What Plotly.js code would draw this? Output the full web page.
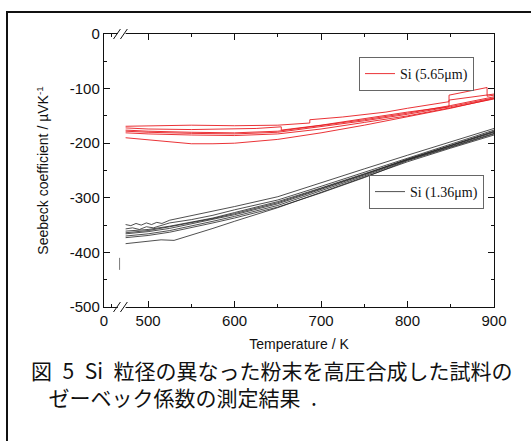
<!DOCTYPE html>
<html>
<head>
<meta charset="utf-8">
<script src="https://cdn.plot.ly/plotly-3.0.1.min.js"></script>
<style>html,body{margin:0;padding:0;background:#fff;}#chart{width:531px;height:441px;}</style>
</head>
<body>
<div id="chart"></div>
<script>
// ---- Data (Temperature K, Seebeck coefficient µV/K) ----
// Si (5.65 µm) – red curves (several measurement runs)
const red1T = [474, 500, 550, 600, 650, 687, 687, 725, 775, 800, 848, 848, 892, 892, 900];
const red1S = [-169, -168, -167, -168, -167, -163, -157, -152, -143, -136, -124, -112, -98, -114, -112];
const red2T = [474, 500, 550, 600, 625, 654, 654, 700, 750, 800, 848, 848, 900];
const red2S = [-172, -174, -175, -174, -173, -170, -176, -167, -155, -143, -133, -121, -110];
const red3T = [474, 500, 550, 600, 650, 700, 750, 800, 850, 900];
const red3S = [-178, -180, -182, -183, -180, -170, -159, -147, -133, -117];
const red4T = [474, 500, 550, 600, 650, 700, 750, 800, 850, 900];
const red4S = [-181, -183, -185, -186, -183, -174, -162, -150, -135, -119];
const red5T = [474, 500, 550, 600, 650, 700, 750, 800, 850, 900];
const red5S = [-176, -178, -180, -181, -178, -168, -157, -145, -131, -115];
const red6T = [474, 500, 525, 550, 575, 600, 650, 700, 750, 800, 850, 900];
const red6S = [-190, -194, -198, -201, -201, -200, -193, -181, -167, -152, -136, -118];

// Si (1.36 µm) – black curves
const blk1T = [474, 480, 486, 492, 498, 504, 510, 516, 525, 550, 575, 600, 650, 700, 750, 800, 850, 900];
const blk1S = [-349, -351, -347, -350, -346, -349, -345, -347, -341, -333, -325, -316, -298, -272, -247, -222, -197, -173];
const blk2T = [474, 482, 490, 498, 506, 514, 525, 550, 575, 600, 650, 700, 750, 800, 850, 900];
const blk2S = [-357, -355, -358, -353, -355, -351, -346, -340, -332, -322, -304, -279, -253, -227, -201, -176];
const blkT  = [474, 500, 525, 550, 575, 600, 650, 700, 750, 800, 850, 900];
const blk3S = [-361, -358, -352, -345, -337, -327, -307, -282, -256, -229, -203, -178];
const blk4S = [-366, -362, -356, -348, -340, -331, -311, -285, -258, -230, -205, -180];
const blk5S = [-370, -366, -360, -352, -343, -334, -314, -287, -260, -231, -206, -182];
const blk6S = [-364, -360, -353, -346, -338, -329, -309, -283, -257, -229, -204, -179];
const blk7S = [-373, -369, -363, -355, -346, -337, -317, -291, -263, -232, -207, -183];
const blk8T = [474, 500, 515, 530, 545, 575, 600, 650, 700, 750, 800, 850, 900];
const blk8S = [-384, -379, -377, -378, -371, -356, -343, -318, -290, -262, -234, -209, -185];
// short stray mark below the black curves
const strayT = [467, 467];
const strayS = [-410, -432];

// axis ticks (broken axis: left end labelled 0)
const xTickVals = [449, 500, 600, 700, 800, 900];
const xTickText = ['0', '500', '600', '700', '800', '900'];
const xMinorVals = [458, 550, 650, 750, 850];
const yTickVals = [-500, -400, -300, -200, -100, 0];
const yTickText = ['-500', '-400', '-300', '-200', '-100', '0'];
const yMinorVals = [-450, -350, -250, -150, -50];

const redName = 'Si (5.65μm)';
const blkName = 'Si (1.36μm)';
const caption1 = '図\u20025\u2002Si\u2002粒径の異なった粉末を高圧合成した試料の';
const caption2 = '\u2002\u2004ゼーベック係数の測定結果\u2002.';

const RED = 'rgb(232,28,32)';
const BLK = 'rgb(35,35,35)';

const redSets = [[red1T, red1S], [red2T, red2S], [red3T, red3S], [red4T, red4S], [red5T, red5S], [red6T, red6S]];
const blkSets = [[blk1T, blk1S], [blk2T, blk2S], [blkT, blk3S], [blkT, blk4S], [blkT, blk5S], [blkT, blk6S], [blkT, blk7S], [blk8T, blk8S]];

const traces = [];
redSets.forEach((s, i) => traces.push({
  x: s[0], y: s[1], type: 'scatter', mode: 'lines', name: redName,
  line: {color: RED, width: 0.9}, showlegend: i === 0, legend: 'legend', hoverinfo: 'skip'
}));
blkSets.forEach((s, i) => traces.push({
  x: s[0], y: s[1], type: 'scatter', mode: 'lines', name: blkName,
  line: {color: BLK, width: 0.8}, showlegend: i === 0, legend: 'legend2', hoverinfo: 'skip'
}));
traces.push({x: strayT, y: strayS, type: 'scatter', mode: 'lines', showlegend: false,
  line: {color: 'rgb(90,90,90)', width: 0.8}, hoverinfo: 'skip'});

// geometry helpers (pixel -> paper) for decorations
const ML = 104, MR = 37, MT = 34, MB = 134, W = 531, H = 441;
const PW = W - ML - MR, PH = H - MT - MB;
const px = v => (v - ML) / PW;
const py = v => (H - MB - v) / PH;
const d = 5 / PH;

const shapes = [
  // outer frame
  {type: 'rect', xref: 'paper', yref: 'paper', x0: px(7), x1: px(545), y0: py(460), y1: py(12),
   line: {color: '#111', width: 2}, fillcolor: 'rgba(0,0,0,0)', layer: 'below'},
];
// axis break marks on bottom (y=0) and top (y=1)
[0, 1].forEach(yy => {
  shapes.push({type: 'line', xref: 'x', yref: 'paper', x0: 465, x1: 474, y0: yy, y1: yy,
               line: {color: 'white', width: 3}, layer: 'above'});
  shapes.push({type: 'line', xref: 'x', yref: 'paper', x0: 460, x1: 468, y0: yy - d, y1: yy + d,
               line: {color: '#111', width: 1}, layer: 'above'});
  shapes.push({type: 'line', xref: 'x', yref: 'paper', x0: 468, x1: 476, y0: yy - d, y1: yy + d,
               line: {color: '#111', width: 1}, layer: 'above'});
});

const FONT = 'Liberation Sans, Arial, sans-serif';
const axisCommon = {
  showgrid: false, zeroline: false, showline: true, linecolor: '#111', linewidth: 1.2,
  mirror: 'ticks', ticks: 'inside', ticklen: 6, tickwidth: 1, tickcolor: '#111',
  tickfont: {family: FONT, size: 15, color: '#111'},
  fixedrange: true
};

const legendCommon = {
  xanchor: 'left', yanchor: 'top', bordercolor: '#666', borderwidth: 1,
  bgcolor: 'white', font: {family: 'Liberation Serif, Times New Roman, serif', size: 14, color: '#111'},
  itemwidth: 30, tracegroupgap: 0
};

const layout = {
  width: W, height: H,
  margin: {l: ML, r: MR, t: MT, b: MB, pad: 0},
  paper_bgcolor: 'white', plot_bgcolor: 'white',
  font: {family: FONT, color: '#111'},
  xaxis: Object.assign({}, axisCommon, {
    range: [449, 900], tickmode: 'array', tickvals: xTickVals, ticktext: xTickText,
    minor: {tickmode: 'array', tickvals: xMinorVals, ticks: 'inside', ticklen: 3, tickcolor: '#111', showgrid: false},
    title: {text: 'Temperature / K', font: {size: 14, family: FONT, color: '#111'}, standoff: 11}
  }),
  yaxis: Object.assign({}, axisCommon, {
    range: [-500, 0], tickmode: 'array', tickvals: yTickVals, ticktext: yTickText,
    minor: {tickmode: 'array', tickvals: yMinorVals, ticks: 'inside', ticklen: 3, tickcolor: '#111', showgrid: false},
    title: {text: 'Seebeck coefficient / µVK<sup>-1</sup>', font: {size: 14, family: FONT, color: '#111'}, standoff: 17}
  }),
  legend: Object.assign({}, legendCommon, {x: px(359), y: py(57)}),
  legend2: Object.assign({}, legendCommon, {x: px(369), y: py(175)}),
  shapes: shapes,
  annotations: [
    {xref: 'paper', yref: 'paper', x: px(29), y: py(383), xanchor: 'left', yanchor: 'middle', align: 'left',
     showarrow: false, font: {family: 'Noto Sans CJK JP, sans-serif', size: 21, color: '#111'},
     text: caption1 + '<br>' + caption2}
  ]
};

Plotly.newPlot('chart', traces, layout, {staticPlot: true, displayModeBar: false});
</script>
</body>
</html>
